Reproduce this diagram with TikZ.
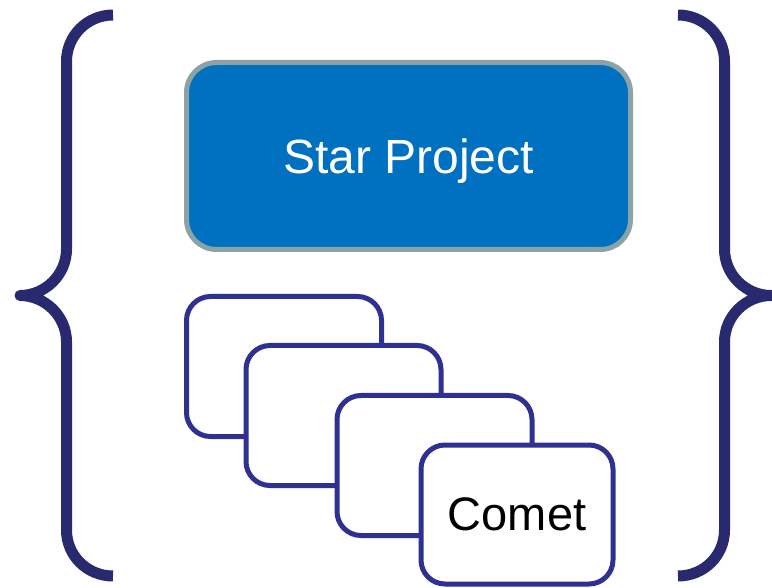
\documentclass[tikz,border=0pt]{standalone}
\usepackage{fontspec}
\setmainfont{Liberation Sans}
\definecolor{bracecol}{HTML}{29296F}
\definecolor{cardcol}{HTML}{2E3192}
\definecolor{starfill}{HTML}{0070C0}
\definecolor{starline}{HTML}{8CA3A6}
\tikzset{
  brace/.style={draw=bracecol, line width=11pt, line join=round, line cap=butt},
  card/.style={draw=cardcol, fill=white, line width=5pt, rounded corners=24pt,
    minimum width=195pt, minimum height=140pt, inner sep=0pt},
  starbox/.style={draw=starline, fill=starfill, line width=5pt, rounded corners=30pt,
    minimum width=444pt, minimum height=187pt, inner sep=0pt, text=white,
    text depth=0pt, font=\fontsize{48pt}{56pt}\selectfont},
}
\begin{document}
\begin{tikzpicture}[x=1pt,y=-1pt]
\useasboundingbox (0,0) rectangle (772,588);
% left brace
\draw[brace] (113,15) .. controls (87.3,15) and (66.5,35.7) .. (66.5,61.5)
  -- (66.5,249) .. controls (66.5,275) and (45,295.5) .. (20,295.5)
  .. controls (45,295.5) and (66.5,316) .. (66.5,342)
  -- (66.5,530) .. controls (66.5,555.8) and (87.3,576) .. (113,576);
% right brace
\draw[brace] (678,15) .. controls (703.7,15) and (724.5,35.7) .. (724.5,61.5)
  -- (724.5,249) .. controls (724.5,275) and (746,295.5) .. (771,295.5)
  .. controls (746,295.5) and (724.5,316) .. (724.5,342)
  -- (724.5,530) .. controls (724.5,555.8) and (703.7,576) .. (678,576);
% star project
\node[starbox] (star) at (408.5,156) {Star Project};
% cards
\node[card] (c1) at (284,366.5) {};
\node[card] (c2) at (343.5,415.5) {};
\node[card] (c3) at (434.5,465.5) {};
\node[card, minimum width=192pt, minimum height=139pt,
  font=\fontsize{47pt}{54pt}\selectfont] (c4) at (517,514.5) {Comet};
\end{tikzpicture}
\end{document}
